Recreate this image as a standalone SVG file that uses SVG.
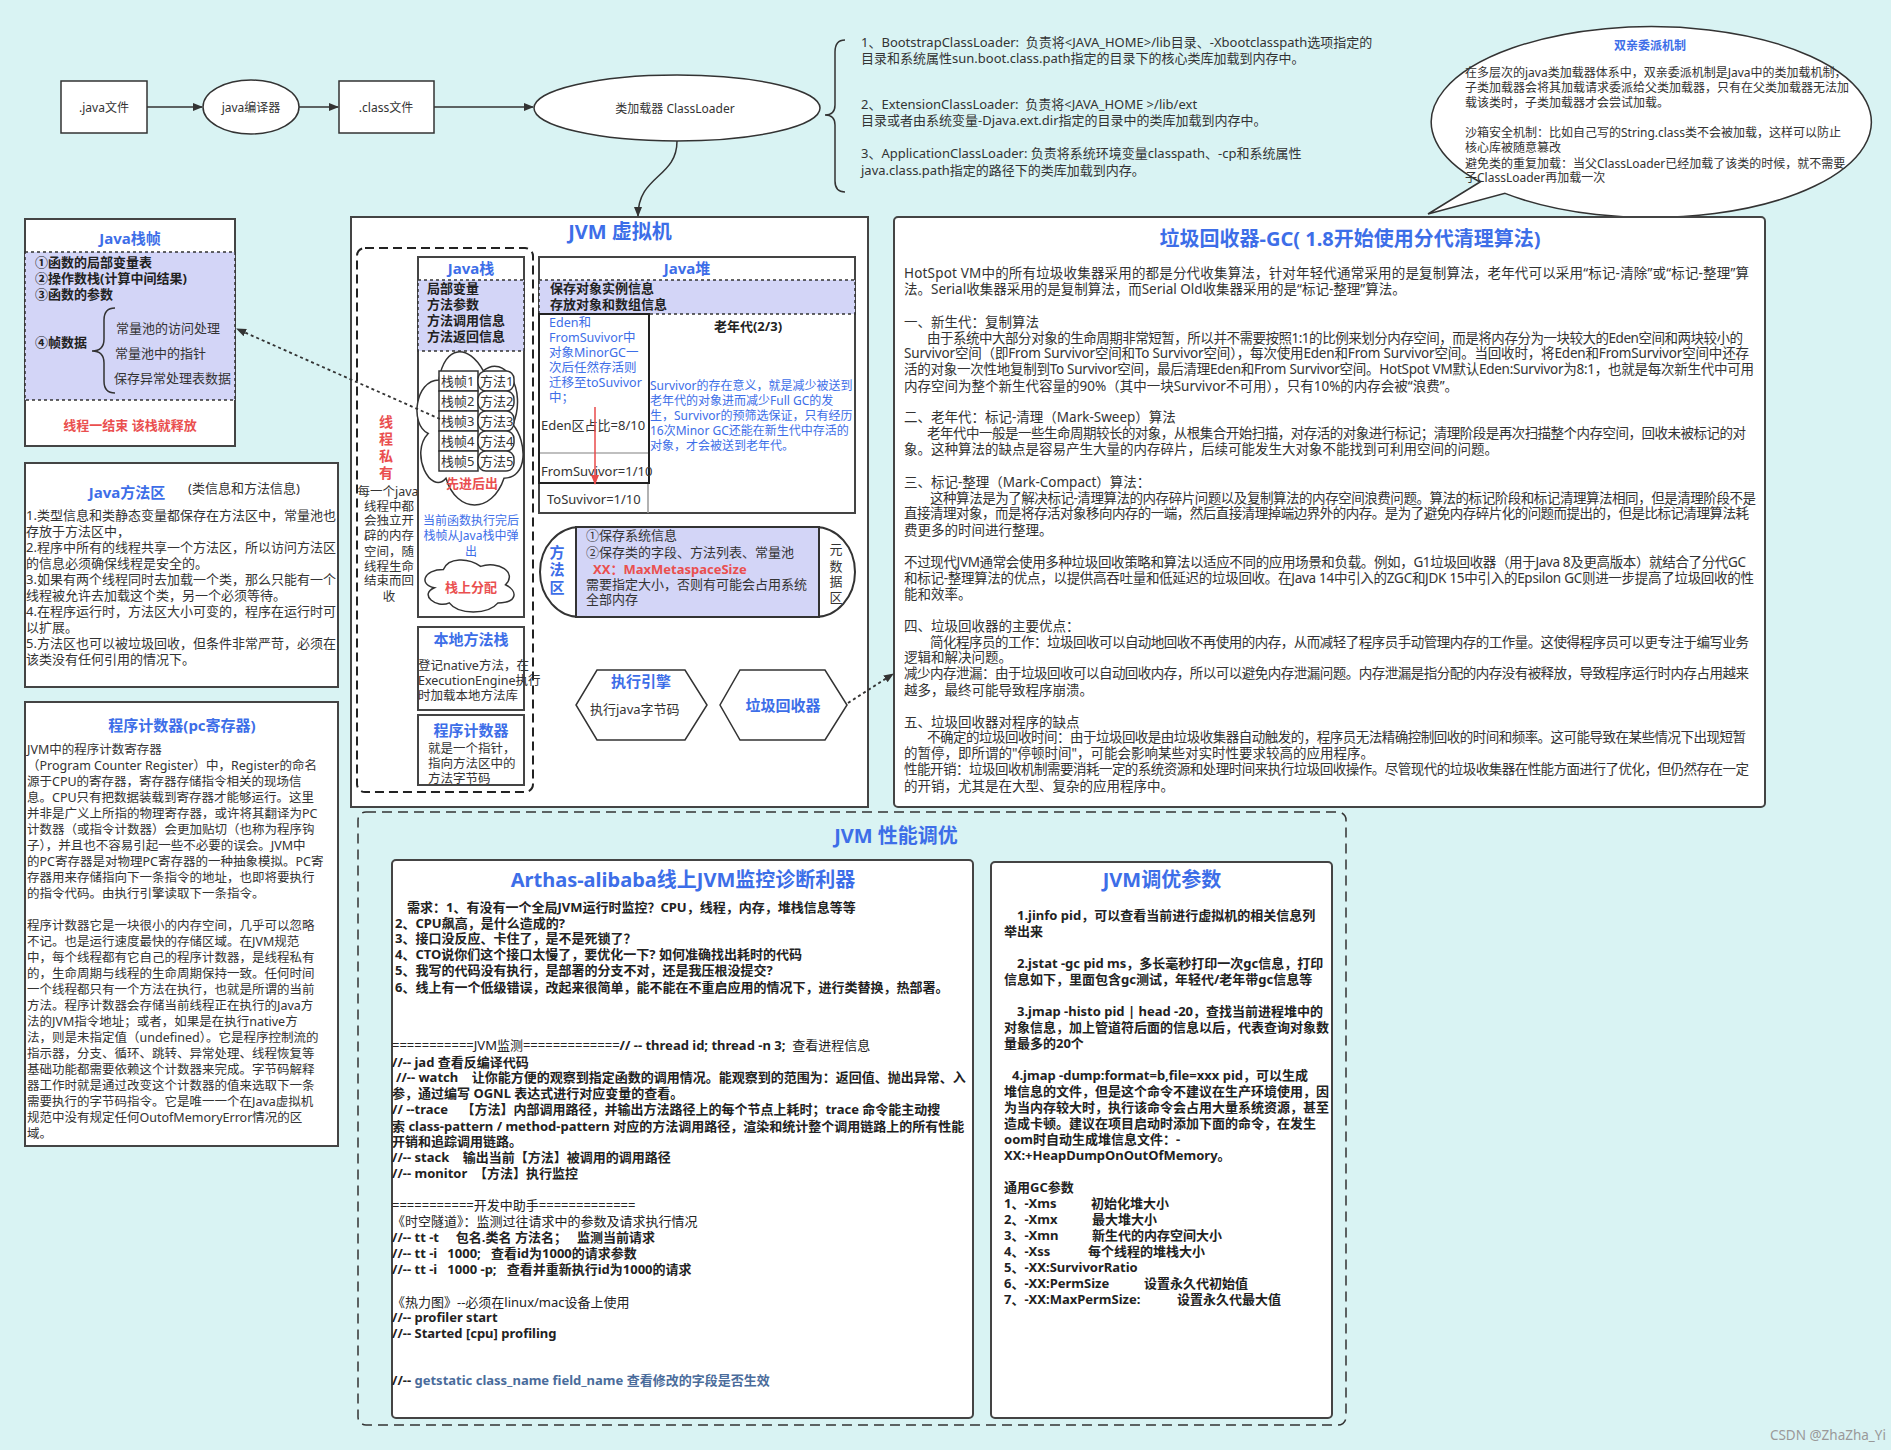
<svg xmlns="http://www.w3.org/2000/svg" width="1891" height="1450" viewBox="0 0 1891 1450">
<style>
text{font-family:'Noto Sans','Noto Sans CJK SC',sans-serif;dominant-baseline:central;fill:#333;font-size:13px;white-space:pre}
.s12{font-size:12px}
.s125{font-size:12.5px}
.s135{font-size:13.5px}
.s14{font-size:14px}
.s15{font-size:15px}
.s20{font-size:20px}
.b{font-weight:bold}
.bl{fill:#3d6ee8}
.rd{fill:#ea4f4f}
.m{text-anchor:middle}
.dk{fill:#222}
.gb{fill:#4a6c9b}
.box{fill:#fff;stroke:#444;stroke-width:2}
.thin{fill:#fff;stroke:#333;stroke-width:1.5}
.lav{fill:#d3d5f7;stroke:#333;stroke-width:1.5;stroke-dasharray:3 3}
.ln{fill:none;stroke:#333;stroke-width:1.5}
.dot{fill:none;stroke:#333;stroke-width:1.8;stroke-dasharray:3 3}
.dash{fill:none;stroke:#222;stroke-width:2;stroke-dasharray:9 5}
</style>
<defs>
<marker id="arr" viewBox="0 0 10 10" refX="9" refY="5" markerWidth="10" markerHeight="10" markerUnits="userSpaceOnUse" orient="auto"><path d="M0,1 L10,5 L0,9 z" fill="#333"/></marker>
<marker id="arrR" viewBox="0 0 10 10" refX="9" refY="5" markerWidth="10" markerHeight="10" markerUnits="userSpaceOnUse" orient="auto"><path d="M0,1 L10,5 L0,9 z" fill="#e84a4a"/></marker>
</defs>
<rect width="1891" height="1450" fill="#d9f3f3"/>

<!-- Flow nodes -->
<g id="java-file">
<rect class="thin" x="61" y="81" width="86" height="52"/>
<text class="s12 m" x="104" y="107">.java文件</text>
</g>
<g id="compiler">
<ellipse class="thin" cx="251" cy="107" rx="48" ry="27"/>
<text class="s12 m" x="251" y="107">java编译器</text>
</g>
<g id="class-file">
<rect class="thin" x="339" y="81" width="95" height="52"/>
<text class="s12 m" x="386" y="107">.class文件</text>
</g>
<g id="classloader">
<ellipse class="thin" cx="677" cy="108" rx="143" ry="33"/>
<text class="s12 m" x="675" y="108">类加载器 ClassLoader</text>
</g>

<g id="loaders">
<path class="ln" d="M845,40 Q835,40 835,52 L835,105 Q835,115 825,115 Q835,115 835,125 L835,181 Q835,192 845,192"/>
<text x="861" y="42">1、BootstrapClassLoader:  负责将&lt;JAVA_HOME&gt;/lib目录、-Xbootclasspath选项指定的</text>
<text x="861" y="58">目录和系统属性sun.boot.class.path指定的目录下的核心类库加载到内存中。</text>
<text x="861" y="104">2、ExtensionClassLoader:  负责将&lt;JAVA_HOME &gt;/lib/ext</text>
<text x="861" y="120">目录或者由系统变量-Djava.ext.dir指定的目录中的类库加载到内存中。</text>
<text x="861" y="153">3、ApplicationClassLoader: 负责将系统环境变量classpath、-cp和系统属性</text>
<text x="861" y="170">java.class.path指定的路径下的类库加载到内存。</text>
</g>

<g id="parent-delegation">
<path d="M1480,182 L1428,214 L1505,193.4 A220,95.5 0 1 0 1480,182 Z" fill="#fff" stroke="#333" stroke-width="1.5"/>
<text class="s12 b bl m" x="1650" y="45">双亲委派机制</text>
<text class="s12" x="1465" y="72">在多层次的java类加载器体系中，双亲委派机制是Java中的类加载机制，</text>
<text class="s12" x="1465" y="87">子类加载器会将其加载请求委派给父类加载器，只有在父类加载器无法加</text>
<text class="s12" x="1465" y="102">载该类时，子类加载器才会尝试加载。</text>
<text class="s12" x="1465" y="132">沙箱安全机制：比如自己写的String.class类不会被加载，这样可以防止</text>
<text class="s12" x="1465" y="147">核心库被随意篡改</text>
<text class="s12" x="1465" y="163">避免类的重复加载：当父ClassLoader已经加载了该类的时候，就不需要</text>
<text class="s12" x="1465" y="177">子ClassLoader再加载一次</text>
</g>

<!-- Java栈帧 -->
<g id="java-stack-frame">
<rect class="box" x="25" y="219" width="210" height="227"/>
<text class="s15 b bl m" x="130" y="238">Java栈帧</text>
<rect class="lav" x="25" y="252" width="210" height="148"/>
<text class="b dk" x="35" y="262">①函数的局部变量表</text>
<text class="b dk" x="35" y="278">②操作数栈(计算中间结果)</text>
<text class="b dk" x="35" y="294">③函数的参数</text>
<text class="b dk" x="35" y="342">④帧数据</text>
<path class="ln" stroke-width="2" d="M115,308 Q104,308 104,320 L104,339 Q104,351 92,351 Q104,351 104,363 L104,381 Q104,393 115,393"/>
<text x="116" y="328">常量池的访问处理</text>
<text x="115" y="353">常量池中的指针</text>
<text x="114" y="378">保存异常处理表数据</text>
<text class="b rd m" x="130" y="425">线程一结束 该栈就释放</text>
</g>

<!-- Java方法区 -->
<g id="method-area">
<rect class="box" x="25" y="463" width="313" height="224"/>
<text class="s15 b bl m" x="127" y="492">Java方法区</text>
<text x="188" y="488">(类信息和方法信息)</text>
<text x="26" y="515">1.类型信息和类静态变量都保存在方法区中，常量池也</text>
<text x="26" y="531">存放于方法区中，</text>
<text x="26" y="547">2.程序中所有的线程共享一个方法区，所以访问方法区</text>
<text x="26" y="563">的信息必须确保线程是安全的。</text>
<text x="26" y="579">3.如果有两个线程同时去加载一个类，那么只能有一个</text>
<text x="26" y="595">线程被允许去加载这个类，另一个必须等待。</text>
<text x="26" y="611">4.在程序运行时，方法区大小可变的，程序在运行时可</text>
<text x="26" y="627">以扩展。</text>
<text x="26" y="643">5.方法区也可以被垃圾回收，但条件非常严苛，必须在</text>
<text x="26" y="659">该类没有任何引用的情况下。</text>
</g>

<!-- 程序计数器 -->
<g id="pc-register">
<rect class="box" x="25" y="702" width="313" height="444"/>
<text class="s15 b bl m" x="182" y="725">程序计数器(pc寄存器)</text>
<text class="s125" x="27" y="749">JVM中的程序计数寄存器</text>
<text class="s125" x="27" y="765">（Program Counter Register）中，Register的命名</text>
<text class="s125" x="27" y="781">源于CPU的寄存器，寄存器存储指令相关的现场信</text>
<text class="s125" x="27" y="797">息。CPU只有把数据装载到寄存器才能够运行。这里</text>
<text class="s125" x="27" y="813">并非是广义上所指的物理寄存器，或许将其翻译为PC</text>
<text class="s125" x="27" y="829">计数器（或指令计数器）会更加贴切（也称为程序钩</text>
<text class="s125" x="27" y="845">子），并且也不容易引起一些不必要的误会。JVM中</text>
<text class="s125" x="27" y="861">的PC寄存器是对物理PC寄存器的一种抽象模拟。PC寄</text>
<text class="s125" x="27" y="877">存器用来存储指向下一条指令的地址，也即将要执行</text>
<text class="s125" x="27" y="893">的指令代码。由执行引擎读取下一条指令。</text>
<text class="s125" x="27" y="925">程序计数器它是一块很小的内存空间，几乎可以忽略</text>
<text class="s125" x="27" y="941">不记。也是运行速度最快的存储区域。在JVM规范</text>
<text class="s125" x="27" y="957">中，每个线程都有它自己的程序计数器，是线程私有</text>
<text class="s125" x="27" y="973">的，生命周期与线程的生命周期保持一致。任何时间</text>
<text class="s125" x="27" y="989">一个线程都只有一个方法在执行，也就是所谓的当前</text>
<text class="s125" x="27" y="1005">方法。程序计数器会存储当前线程正在执行的Java方</text>
<text class="s125" x="27" y="1021">法的JVM指令地址；或者，如果是在执行native方</text>
<text class="s125" x="27" y="1037">法，则是未指定值（undefined）。它是程序控制流的</text>
<text class="s125" x="27" y="1053">指示器，分支、循环、跳转、异常处理、线程恢复等</text>
<text class="s125" x="27" y="1069">基础功能都需要依赖这个计数器来完成。字节码解释</text>
<text class="s125" x="27" y="1085">器工作时就是通过改变这个计数器的值来选取下一条</text>
<text class="s125" x="27" y="1101">需要执行的字节码指令。它是唯一一个在Java虚拟机</text>
<text class="s125" x="27" y="1117">规范中没有规定任何OutofMemoryError情况的区</text>
<text class="s125" x="27" y="1133">域。</text>
</g>

<!-- JVM 虚拟机 -->
<g id="jvm">
<rect class="box" x="351" y="217" width="517" height="590"/>
<text class="s20 b bl m" x="620" y="231">JVM 虚拟机</text>
</g>

<g id="thread-private">
<rect class="dash" x="357" y="248" width="176" height="544" rx="8"/>
<text class="s14 b rd m" x="386" y="421">线</text>
<text class="s14 b rd m" x="386" y="438">程</text>
<text class="s14 b rd m" x="386" y="455">私</text>
<text class="s14 b rd m" x="386" y="472">有</text>
<text class="s125 m" x="388" y="491">每一个java</text>
<text class="s125 m" x="389" y="506">线程中都</text>
<text class="s125 m" x="389" y="520">会独立开</text>
<text class="s125 m" x="389" y="535">辟的内存</text>
<text class="s125 m" x="389" y="551">空间，随</text>
<text class="s125 m" x="389" y="566">线程生命</text>
<text class="s125 m" x="389" y="580">结束而回</text>
<text class="s125 m" x="389" y="596">收</text>
</g>

<g id="java-stack">
<rect class="box" x="418" y="257" width="106" height="360"/>
<text class="s15 b bl m" x="471" y="268">Java栈</text>
<rect class="lav" x="418" y="280" width="106" height="71"/>
<text class="b dk" x="427" y="288">局部变量</text>
<text class="b dk" x="427" y="304">方法参数</text>
<text class="b dk" x="427" y="320">方法调用信息</text>
<text class="b dk" x="427" y="336">方法返回信息</text>
<path d="M438.9,379.9 C415.2,379.9 409.3,424.6 428.2,433.5 C409.3,453.1 430.6,496 446,478.2 C456.7,513.9 492.2,513.9 504,478.2 C527.7,478.2 527.7,442.4 512.9,424.6 C527.7,388.8 504,353.1 483.3,370.9 C468.5,344.1 444.8,344.1 438.9,379.9 Z" fill="#fff" stroke="#333" stroke-width="1.5"/>
<g fill="#fff" stroke="#333" stroke-width="1.5">
<rect x="439" y="371" width="39" height="20"/>
<rect x="439" y="391" width="39" height="20"/>
<rect x="439" y="411" width="39" height="20"/>
<rect x="439" y="431" width="39" height="20"/>
<rect x="439" y="451" width="39" height="20"/>
<rect x="478" y="371" width="36" height="20" rx="8"/>
<rect x="478" y="391" width="36" height="20" rx="8"/>
<rect x="478" y="411" width="36" height="20" rx="8"/>
<rect x="478" y="431" width="36" height="20" rx="8"/>
<rect x="478" y="451" width="36" height="20" rx="8"/>
</g>
<text x="441" y="381">栈帧1</text><text x="480" y="381">方法1</text>
<text x="441" y="401">栈帧2</text><text x="480" y="401">方法2</text>
<text x="441" y="421">栈帧3</text><text x="480" y="421">方法3</text>
<text x="441" y="441">栈帧4</text><text x="480" y="441">方法4</text>
<text x="441" y="461">栈帧5</text><text x="480" y="461">方法5</text>
<text class="b rd m" x="472" y="483">先进后出</text>
<text class="s12 bl m" x="471" y="520">当前函数执行完后</text>
<text class="s12 bl m" x="471" y="535">栈帧从Java栈中弹</text>
<text class="s12 bl m" x="471" y="551">出</text>
<path d="M443.4,569.5 C423.5,569.5 418.5,584.7 434.4,587.7 C418.5,594.4 436.4,608.9 449.3,602.9 C458.3,615 488.1,615 498,602.9 C517.9,602.9 517.9,590.7 505.5,584.7 C517.9,572.5 498,560.4 480.6,566.4 C468.2,557.3 448.3,557.3 443.4,569.5 Z" fill="#fff" stroke="#333" stroke-width="1.5"/>
<text class="b rd m" x="471" y="587">栈上分配</text>
</g>

<g id="native-stack">
<rect class="box" x="418" y="627" width="106" height="83"/>
<text class="s15 b bl m" x="471" y="639">本地方法栈</text>
<text class="s125" x="418" y="665">登记native方法，在</text>
<text class="s125" x="418" y="680">ExecutionEngine执行</text>
<text class="s125" x="418" y="695">时加载本地方法库</text>
</g>

<g id="pc-small">
<rect class="box" x="418" y="715" width="106" height="70"/>
<text class="s15 b bl m" x="471" y="730">程序计数器</text>
<text class="s125" x="428" y="748">就是一个指针，</text>
<text class="s125" x="428" y="763">指向方法区中的</text>
<text class="s125" x="428" y="778">方法字节码</text>
</g>

<g id="java-heap">
<rect class="box" x="539" y="257" width="316" height="256"/>
<text class="s15 b bl m" x="687" y="268">Java堆</text>
<rect class="lav" x="539" y="280" width="316" height="34"/>
<text class="b dk" x="550" y="288">保存对象实例信息</text>
<text class="b dk" x="550" y="304">存放对象和数组信息</text>
<line x1="648" y1="483" x2="648" y2="513" stroke="#999" stroke-width="1.5"/>
<rect x="539" y="314" width="110" height="169" fill="#fff" stroke="#222" stroke-width="2"/>
<line x1="540" y1="453" x2="648" y2="453" stroke="#aaa" stroke-width="1.5"/>
<text class="s125 bl" x="549" y="322">Eden和</text>
<text class="s125 bl" x="549" y="337">FromSuvivor中</text>
<text class="s125 bl" x="549" y="352">对象MinorGC一</text>
<text class="s125 bl" x="549" y="367">次后任然存活则</text>
<text class="s125 bl" x="549" y="382">迁移至toSuvivor</text>
<text class="s125 bl" x="549" y="397">中；</text>
<text x="541" y="425">Eden区占比=8/10</text>
<text x="541" y="471">FromSuvivor=1/10</text>
<text x="547" y="499">ToSuvivor=1/10</text>
<text class="b dk m" x="748" y="326">老年代(2/3)</text>
<text class="s12 bl" x="650" y="385">Survivor的存在意义，就是减少被送到</text>
<text class="s12 bl" x="650" y="400">老年代的对象进而减少Full GC的发</text>
<text class="s12 bl" x="650" y="415">生，Survivor的预筛选保证，只有经历</text>
<text class="s12 bl" x="650" y="430">16次Minor GC还能在新生代中存活的</text>
<text class="s12 bl" x="650" y="445">对象，才会被送到老年代。</text>
</g>

<g id="method-area-jvm">
<rect x="540" y="527" width="315" height="90" rx="40" ry="45" fill="#fff" stroke="#333" stroke-width="2"/>
<rect x="576" y="527" width="243" height="90" fill="#d3d5f7" stroke="#333" stroke-width="2"/>
<text class="s15 b bl m" x="557" y="552">方</text>
<text class="s15 b bl m" x="557" y="569">法</text>
<text class="s15 b bl m" x="557" y="587">区</text>
<text class="m" x="836" y="549">元</text>
<text class="m" x="836" y="566">数</text>
<text class="m" x="836" y="581">据</text>
<text class="m" x="836" y="597">区</text>
<text x="586" y="535">①保存系统信息</text>
<text x="586" y="552">②保存类的字段、方法列表、常量池</text>
<text class="b rd" x="593" y="569">XX：MaxMetaspaceSize</text>
<text x="586" y="584">需要指定大小，否则有可能会占用系统</text>
<text x="586" y="599">全部内存</text>
</g>

<g id="exec-engine">
<polygon points="597,670 685,670 707,705 685,740 597,740 576,705" fill="#fff" stroke="#333" stroke-width="1.5"/>
<text class="s15 b bl m" x="641" y="681">执行引擎</text>
<text x="590" y="709">执行java字节码</text>
</g>

<g id="gc-node">
<polygon points="740,670 825,670 847,705 825,740 740,740 720,705" fill="#fff" stroke="#333" stroke-width="1.5"/>
<text class="s15 b bl m" x="783" y="705">垃圾回收器</text>
</g>

<!-- GC box -->
<g id="gc-box">
<rect class="box" x="894" y="217" width="871" height="590" rx="4"/>
<text class="s20 b bl m" x="1350" y="238">垃圾回收器-GC( 1.8开始使用分代清理算法)</text>
<text class="s135" x="904" y="273" textLength="845">HotSpot VM中的所有垃圾收集器采用的都是分代收集算法，针对年轻代通常采用的是复制算法，老年代可以采用“标记-清除”或“标记-整理”算</text>
<text class="s135" x="904" y="289">法。Serial收集器采用的是复制算法，而Serial Old收集器采用的是“标记-整理”算法。</text>
<text class="s135" x="904" y="322">一、新生代：复制算法</text>
<text class="s135" x="927" y="338" textLength="816">由于系统中大部分对象的生命周期非常短暂，所以并不需要按照1:1的比例来划分内存空间，而是将内存分为一块较大的Eden空间和两块较小的</text>
<text class="s135" x="904" y="353" textLength="845">Survivor空间（即From Survivor空间和To Survivor空间），每次使用Eden和From Survivor空间。当回收时，将Eden和FromSurvivor空间中还存</text>
<text class="s135" x="904" y="369" textLength="850">活的对象一次性地复制到To Survivor空间，最后清理Eden和From Survivor空间。HotSpot VM默认Eden:Survivor为8:1，也就是每次新生代中可用</text>
<text class="s135" x="904" y="386">内存空间为整个新生代容量的90%（其中一块Survivor不可用），只有10%的内存会被“浪费”。</text>
<text class="s135" x="904" y="417">二、老年代：标记-清理（Mark-Sweep）算法</text>
<text class="s135" x="927" y="433" textLength="819">老年代中一般是一些生命周期较长的对象，从根集合开始扫描，对存活的对象进行标记；清理阶段是再次扫描整个内存空间，回收未被标记的对</text>
<text class="s135" x="904" y="449">象。这种算法的缺点是容易产生大量的内存碎片，后续可能发生大对象不能找到可利用空间的问题。</text>
<text class="s135" x="904" y="482">三、标记-整理（Mark-Compact）算法：</text>
<text class="s135" x="930" y="498" textLength="826">这种算法是为了解决标记-清理算法的内存碎片问题以及复制算法的内存空间浪费问题。算法的标记阶段和标记清理算法相同，但是清理阶段不是</text>
<text class="s135" x="904" y="513" textLength="845">直接清理对象，而是将存活对象移向内存的一端，然后直接清理掉端边界外的内存。是为了避免内存碎片化的问题而提出的，但是比标记清理算法耗</text>
<text class="s135" x="904" y="530">费更多的时间进行整理。</text>
<text class="s135" x="904" y="562" textLength="842">不过现代JVM通常会使用多种垃圾回收策略和算法以适应不同的应用场景和负载。例如，G1垃圾回收器（用于Java 8及更高版本）就结合了分代GC</text>
<text class="s135" x="904" y="578" textLength="850">和标记-整理算法的优点，以提供高吞吐量和低延迟的垃圾回收。在Java 14中引入的ZGC和JDK 15中引入的Epsilon GC则进一步提高了垃圾回收的性</text>
<text class="s135" x="904" y="594">能和效率。</text>
<text class="s135" x="904" y="626">四、垃圾回收器的主要优点：</text>
<text class="s135" x="930" y="642" textLength="819">简化程序员的工作：垃圾回收可以自动地回收不再使用的内存，从而减轻了程序员手动管理内存的工作量。这使得程序员可以更专注于编写业务</text>
<text class="s135" x="904" y="657">逻辑和解决问题。</text>
<text class="s135" x="904" y="673" textLength="845">减少内存泄漏：由于垃圾回收可以自动回收内存，所以可以避免内存泄漏问题。内存泄漏是指分配的内存没有被释放，导致程序运行时内存占用越来</text>
<text class="s135" x="904" y="690">越多，最终可能导致程序崩溃。</text>
<text class="s135" x="904" y="722">五、垃圾回收器对程序的缺点</text>
<text class="s135" x="927" y="737" textLength="819">不确定的垃圾回收时间：由于垃圾回收是由垃圾收集器自动触发的，程序员无法精确控制回收的时间和频率。这可能导致在某些情况下出现短暂</text>
<text class="s135" x="904" y="753">的暂停，即所谓的"停顿时间"，可能会影响某些对实时性要求较高的应用程序。</text>
<text class="s135" x="904" y="769" textLength="845">性能开销：垃圾回收机制需要消耗一定的系统资源和处理时间来执行垃圾回收操作。尽管现代的垃圾收集器在性能方面进行了优化，但仍然存在一定</text>
<text class="s135" x="904" y="786">的开销，尤其是在大型、复杂的应用程序中。</text>
</g>

<!-- JVM 性能调优 -->
<g id="tuning">
<rect x="358" y="812" width="988" height="613" rx="8" fill="none" stroke="#333" stroke-width="1.5" stroke-dasharray="10 6"/>
<text class="s20 b bl m" x="896" y="835">JVM 性能调优</text>
</g>

<g id="arthas">
<rect class="box" x="392" y="860" width="581" height="558" rx="4"/>
<text class="s20 b bl m" x="683" y="879">Arthas-alibaba线上JVM监控诊断利器</text>
<text class="b dk" x="407" y="907">需求：1、有没有一个全局JVM运行时监控？CPU，线程，内存，堆栈信息等等</text>
<text class="b dk" x="395" y="923">2、CPU飙高，是什么造成的?</text>
<text class="b dk" x="395" y="938">3、接口没反应、卡住了，是不是死锁了？</text>
<text class="b dk" x="395" y="954">4、CTO说你们这个接口太慢了，要优化一下? 如何准确找出耗时的代码</text>
<text class="b dk" x="395" y="970">5、我写的代码没有执行，是部署的分支不对，还是我压根没提交?</text>
<text class="b dk" x="395" y="987">6、线上有一个低级错误，改起来很简单，能不能在不重启应用的情况下，进行类替换，热部署。</text>
<text class="dk" x="392" y="1045">===========JVM监测=============<tspan class="b">// -- thread id; thread -n 3;</tspan>  查看进程信息</text>
<text class="b dk" x="392" y="1062">//-- jad 查看反编译代码</text>
<text class="b dk" x="396" y="1077">//-- watch    让你能方便的观察到指定函数的调用情况。能观察到的范围为：返回值、抛出异常、入</text>
<text class="b dk" x="392" y="1093">参，通过编写 OGNL 表达式进行对应变量的查看。</text>
<text class="b dk" x="392" y="1109">// --trace    【方法】内部调用路径，并输出方法路径上的每个节点上耗时；trace 命令能主动搜</text>
<text class="b dk" x="392" y="1126">索 class-pattern / method-pattern 对应的方法调用路径，渲染和统计整个调用链路上的所有性能</text>
<text class="b dk" x="392" y="1141">开销和追踪调用链路。</text>
<text class="b dk" x="392" y="1157">//-- stack    输出当前【方法】被调用的调用路径</text>
<text class="b dk" x="392" y="1173">//-- monitor  【方法】执行监控</text>
<text class="dk" x="392" y="1205">===========开发中助手=============</text>
<text class="dk" x="392" y="1221">《时空隧道》：监测过往请求中的参数及请求执行情况</text>
<text class="b dk" x="392" y="1237">//-- tt -t     包名.类名 方法名；   监测当前请求</text>
<text class="b dk" x="392" y="1253">//-- tt -i   1000;   查看id为1000的请求参数</text>
<text class="b dk" x="392" y="1269">//-- tt -i   1000 -p;   查看并重新执行id为1000的请求</text>
<text class="dk" x="392" y="1302">《热力图》--必须在linux/mac设备上使用</text>
<text class="b dk" x="392" y="1317">//-- profiler start</text>
<text class="b dk" x="392" y="1333">//-- Started [cpu] profiling</text>
<text class="b gb" x="392" y="1380"><tspan class="dk">//-- </tspan>getstatic class_name field_name 查看修改的字段是否生效</text>
</g>

<g id="tuning-params">
<rect class="box" x="991" y="862" width="341" height="556" rx="4"/>
<text class="s20 b bl m" x="1162" y="879">JVM调优参数</text>
<text class="b dk" x="1017" y="915">1.jinfo pid，可以查看当前进行虚拟机的相关信息列</text>
<text class="b dk" x="1004" y="931">举出来</text>
<text class="b dk" x="1017" y="963">2.jstat -gc pid ms，多长毫秒打印一次gc信息，打印</text>
<text class="b dk" x="1004" y="979">信息如下，里面包含gc测试，年轻代/老年带gc信息等</text>
<text class="b dk" x="1017" y="1011">3.jmap -histo pid | head -20，查找当前进程堆中的</text>
<text class="b dk" x="1004" y="1027">对象信息，加上管道符后面的信息以后，代表查询对象数</text>
<text class="b dk" x="1004" y="1043">量最多的20个</text>
<text class="b dk" x="1012" y="1075">4.jmap -dump:format=b,file=xxx pid，可以生成</text>
<text class="b dk" x="1004" y="1091">堆信息的文件，但是这个命令不建议在生产环境使用，因</text>
<text class="b dk" x="1004" y="1107">为当内存较大时，执行该命令会占用大量系统资源，甚至</text>
<text class="b dk" x="1004" y="1123">造成卡顿。建议在项目启动时添加下面的命令，在发生</text>
<text class="b dk" x="1004" y="1139">oom时自动生成堆信息文件：-</text>
<text class="b dk" x="1004" y="1155">XX:+HeapDumpOnOutOfMemory。</text>
<text class="b dk" x="1004" y="1187">通用GC参数</text>
<text class="b dk" x="1004" y="1203">1、-Xms<tspan x="1091">初始化堆大小</tspan></text>
<text class="b dk" x="1004" y="1219">2、-Xmx<tspan x="1092">最大堆大小</tspan></text>
<text class="b dk" x="1004" y="1235">3、-Xmn<tspan x="1092">新生代的内存空间大小</tspan></text>
<text class="b dk" x="1004" y="1251">4、-Xss<tspan x="1088">每个线程的堆栈大小</tspan></text>
<text class="b dk" x="1004" y="1267">5、-XX:SurvivorRatio</text>
<text class="b dk" x="1004" y="1283">6、-XX:PermSize<tspan x="1144">设置永久代初始值</tspan></text>
<text class="b dk" x="1004" y="1299">7、-XX:MaxPermSize:<tspan x="1177">设置永久代最大值</tspan></text>
</g>

<text x="1886" y="1435" class="s135" style="fill:#999;text-anchor:end">CSDN @ZhaZha_Yi</text>

<!-- connectors -->
<g id="connectors">
<line class="ln" x1="147" y1="107" x2="202" y2="107" marker-end="url(#arr)"/>
<line class="ln" x1="299" y1="107" x2="338" y2="107" marker-end="url(#arr)"/>
<line class="ln" x1="434" y1="107" x2="533" y2="107" marker-end="url(#arr)"/>
<path class="ln" d="M677,141 C677,178 638,175 638,216" marker-end="url(#arr)"/>
<line class="dot" x1="440" y1="419" x2="237" y2="329" marker-end="url(#arr)"/>
<line class="dot" x1="848" y1="703" x2="893" y2="674" marker-end="url(#arr)"/>
<line x1="595" y1="407" x2="595" y2="484" stroke="#e84a4a" stroke-width="1.5" marker-end="url(#arrR)"/>
</g>
</svg>
